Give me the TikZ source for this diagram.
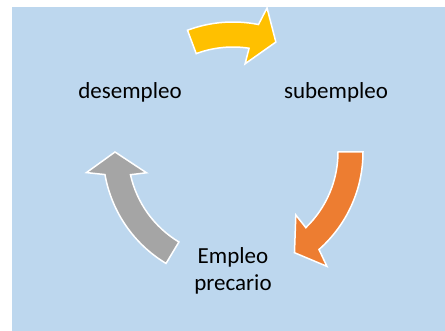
\documentclass[tikz,border=0pt]{standalone}
\usepackage{fontspec}
\setmainfont{Carlito}
\definecolor{bgblue}{HTML}{BDD7EE}
\definecolor{arryellow}{HTML}{FFC000}
\definecolor{arrorange}{HTML}{ED7D31}
\definecolor{arrgray}{HTML}{A5A5A5}
\tikzset{
  cycarrow/.style={draw=white, line width=1.5pt, line join=miter},
  cyclabel/.style={font=\fontsize{23}{27.6}\selectfont, text=black, inner sep=0pt, align=center}
}
\begin{document}
\begin{tikzpicture}[x=1pt,y=1pt]

\useasboundingbox (0,0) rectangle (445,331);
\fill [bgblue] (12,0) rectangle (445,324);

% labels round the cycle
\node [cyclabel, anchor=base] (desempleo) at (130,232) {desempleo};
\node [cyclabel, anchor=base] (subempleo) at (336,232) {subempleo};
\node [cyclabel] (precario) at (233,60) {Empleo\\precario};

% curved arrows, centre of the cycle at (233,179)
\begin{scope}[shift={(233,179)}]
\filldraw [cycarrow, fill=arryellow] (110.5:105) -- (110.5:130)
  arc [start angle=110.5, end angle=78.7, radius=130] -- (76.7:148) -- (68.7:118)
  -- (82.2:89) -- (81.2:105) arc [start angle=81.2, end angle=110.5, radius=105] -- cycle;

\filldraw [cycarrow, fill=arrorange] (0:105) -- (0:130)
  arc [start angle=0, end angle=-48.6, radius=130] -- (-50.6:148) -- (-58.6:118)
  -- (-45.1:89) -- (-46.1:105) arc [start angle=-46.1, end angle=0, radius=105] -- cycle;

\filldraw [cycarrow, fill=arrgray] (-121:105) -- (-121:130)
  arc [start angle=-121, end angle=-170, radius=130] -- (-172:148) -- (-180:118)
  -- (-166.5:89) -- (-167.5:105) arc [start angle=-167.5, end angle=-121, radius=105] -- cycle;
\end{scope}

\end{tikzpicture}
\end{document}
